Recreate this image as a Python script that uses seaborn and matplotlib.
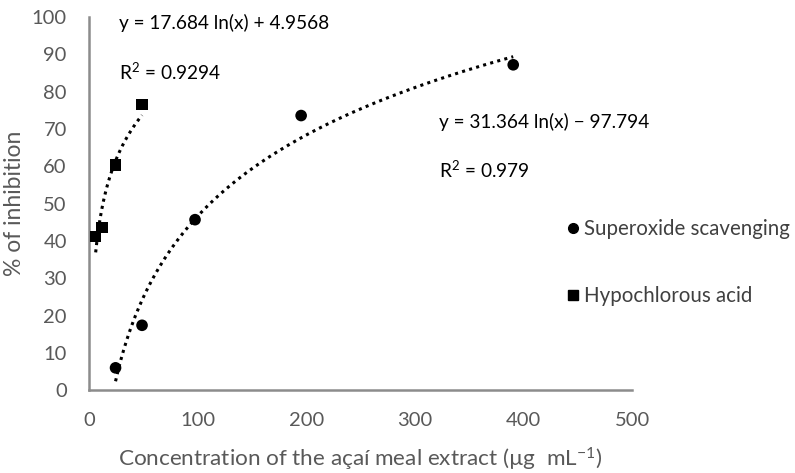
import numpy as np
import pandas as pd
import matplotlib
matplotlib.use("Agg")
import matplotlib.pyplot as plt
import seaborn as sns

# measured points
superoxide_x = [24.4, 48.8, 97.6, 195.3, 390.6]
superoxide_y = [6.0, 17.4, 45.7, 73.6, 87.2]
hypochlorous_x = [6.1, 12.2, 24.4, 48.8]
hypochlorous_y = [41.2, 43.6, 60.4, 76.6]

# logarithmic trend lines (coefficients as printed on the chart)
sup_a, sup_b, sup_r2 = 31.364, -97.794, 0.979
hyp_a, hyp_b, hyp_r2 = 17.684, 4.9568, 0.9294

x_ticks = [0, 100, 200, 300, 400, 500]
y_ticks = [0, 10, 20, 30, 40, 50, 60, 70, 80, 90, 100]

sns.set_style("white")
plt.rcParams["font.family"] = ["Lato", "DejaVu Sans"]
plt.rcParams["mathtext.fontset"] = "custom"
plt.rcParams["mathtext.rm"] = "Lato"
plt.rcParams["mathtext.it"] = "Lato:italic"

df = pd.concat([
    pd.DataFrame({"x": superoxide_x, "y": superoxide_y, "series": "Superoxide scavenging"}),
    pd.DataFrame({"x": hypochlorous_x, "y": hypochlorous_y, "series": "Hypochlorous acid"}),
])

fig = plt.figure(figsize=(7.95, 4.73), dpi=100)
ax = fig.add_axes([0.112, 0.175, 0.683, 0.789])

dot = (0, (1, 1.4))
xs = np.linspace(min(superoxide_x), max(superoxide_x), 300)
ax.plot(xs, sup_a * np.log(xs) + sup_b, color="black", lw=2.2, ls=dot, zorder=1)
xh = np.linspace(min(hypochlorous_x), max(hypochlorous_x), 200)
ax.plot(xh, hyp_a * np.log(xh) + hyp_b, color="black", lw=2.2, ls=dot, zorder=1)

sns.scatterplot(data=df, x="x", y="y", style="series", markers={"Superoxide scavenging": "o", "Hypochlorous acid": "s"},
                color="black", s=70, edgecolor="black", linewidth=0, ax=ax, zorder=3, legend=False)

ax.set_xlim(0, 500)
ax.set_ylim(0, 100)
ax.set_xticks(x_ticks)
ax.set_yticks(y_ticks)
ax.tick_params(axis="both", length=0, labelsize=14.5, labelcolor="#595959")
ax.tick_params(axis="y", pad=16)
ax.tick_params(axis="x", pad=16)
for side in ("top", "right"):
    ax.spines[side].set_visible(False)
for side in ("left", "bottom"):
    ax.spines[side].set_color("#8c8c8c")
    ax.spines[side].set_linewidth(1.8)

ax.set_xlabel("Concentration of the açaí meal extract (µg  mL$^{-1}$)", fontsize=16.2, color="#595959", labelpad=12)
ax.set_ylabel("% of inhibition", fontsize=16.5, color="#595959")
ax.yaxis.set_label_coords(-0.118, 0.5)

txt = dict(fontsize=13.7, color="black", va="center", ha="left")
ax.text(27.5, 98.3, f"y = {hyp_a} ln(x) + {hyp_b}", **txt)
ax.text(27.5, 85.2, f"R$^2$ = {hyp_r2}", **txt)
ax.text(322, 71.8, f"y = {sup_a} ln(x) \u2212 {-sup_b}", **txt)
ax.text(322, 59.0, f"R$^2$ = {sup_r2}", **txt)

handles = [
    plt.Line2D([], [], marker="o", color="black", ls="none", markersize=7),
    plt.Line2D([], [], marker="s", color="black", ls="none", markersize=7),
]
fig.legend(handles, ["Superoxide scavenging", "Hypochlorous acid"], loc="center left",
           bbox_to_anchor=(0.685, 0.445), frameon=False, fontsize=14.8, labelcolor="#404040",
           handletextpad=0.0, handlelength=1.0, labelspacing=2.3)

fig.savefig("out.png", dpi=100)
